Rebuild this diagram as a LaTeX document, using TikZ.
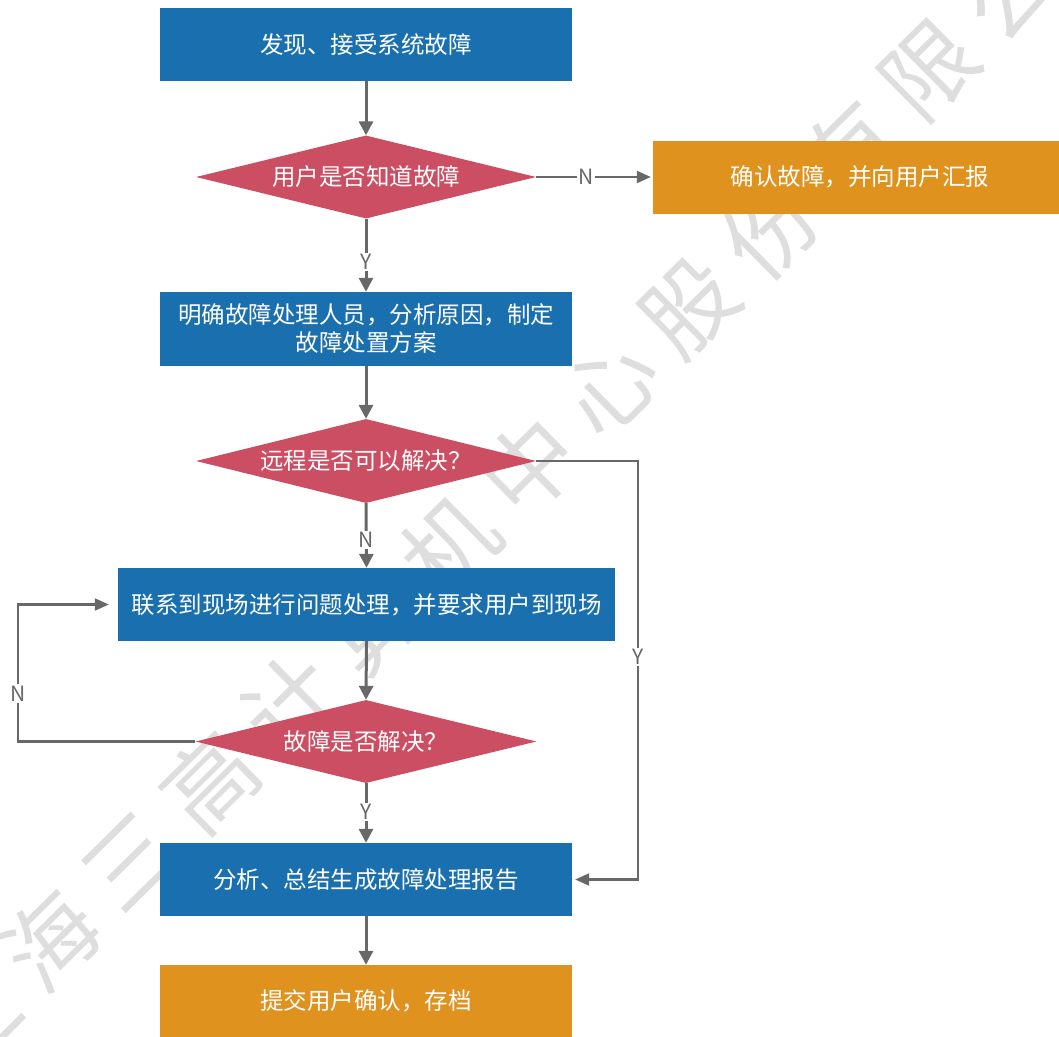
\documentclass[tikz,border=0pt]{standalone}
\usepackage{fontspec}
\setmainfont{Noto Sans CJK SC}
\usetikzlibrary{shapes.geometric,arrows.meta}
\definecolor{boxblue}{RGB}{26,112,175}
\definecolor{dred}{RGB}{204,78,99}
\definecolor{borange}{RGB}{224,146,31}
\definecolor{lgray}{RGB}{104,104,104}
\definecolor{wmgray}{RGB}{222,222,222}
\begin{document}
\begin{tikzpicture}[x=1pt,y=-1pt,
  box/.style={rectangle, inner sep=0pt, text=white, font=\fontsize{23.5}{28}\selectfont, align=center},
  bluebox/.style={box, fill=boxblue},
  orangebox/.style={box, fill=borange},
  decision/.style={diamond, aspect=4, inner sep=0pt, fill=dred, text=white, font=\fontsize{23.5}{28}\selectfont},
  mainarrow/.style={draw=lgray, line width=3pt, -{Triangle[length=14pt,width=14pt]}},
  sidearrow/.style={draw=lgray, line width=2.1pt, -{Triangle[length=14pt,width=12pt]}},
  lbl/.style={fill=white, text=lgray, inner sep=1.5pt, font=\fontsize{21}{21}\selectfont},
  wm/.style={text=wmgray, font=\fontsize{92}{92}\selectfont, rotate=44.6, inner sep=0pt}
]
\clip (0,0) rectangle (1059,1036);
\fill[white] (0,0) rectangle (1059,1036);
% watermark
\foreach \c [count=\i from 0] in {上,海,三,高,计,算,机,中,心,股,份,有,限,公,司}
  \node[wm] (wm\i) at ({-30+80*\i},{1019-79*\i}) {\c};
% nodes
\node[bluebox, minimum width=412pt, minimum height=73pt] (b1) at (366,44.5) {发现、接受系统故障};
\node[decision, minimum width=340pt, minimum height=83pt] (d1) at (366,177) {用户是否知道故障};
\node[orangebox, minimum width=414pt, minimum height=73pt] (o1) at (860,177) {确认故障，并向用户汇报};
\node[bluebox, minimum width=412pt, minimum height=74pt] (b2) at (366,329) {明确故障处理人员，分析原因，制定\\故障处置方案};
\node[decision, minimum width=340pt, minimum height=84pt] (d2) at (366,461) {远程是否可以解决？};
\node[bluebox, minimum width=497pt, minimum height=73pt] (b3) at (366.5,604.5) {联系到现场进行问题处理，并要求用户到现场};
\node[decision, minimum width=341pt, minimum height=83pt] (d3) at (366,741.5) {故障是否解决？};
\node[bluebox, minimum width=412pt, minimum height=73pt] (b5) at (366,879.5) {分析、总结生成故障处理报告};
\node[orangebox, minimum width=412pt, minimum height=72pt] (b6) at (366,1001) {提交用户确认，存档};
% corner coordinates
\coordinate (yc) at (638,461);
\coordinate (nc) at (18,741.5);
% connectors
\draw[mainarrow] (b1.south) -- (d1.north);
\draw[sidearrow, shorten >=2pt] (d1.east) -- node[lbl, pos=0.43] (lN1) {N} (o1.west);
\draw[mainarrow] (d1.south) -- node[lbl, pos=0.59] (lY1) {Y} (b2.north);
\draw[mainarrow] (b2.south) -- (d2.north);
\draw[mainarrow] (d2.south) -- node[lbl, pos=0.57] (lN2) {N} (b3.north);
\draw[sidearrow, shorten >=3pt] (d2.east) -- (yc) |- node[lbl, pos=0.234] (lY2) {Y} (b5.east);
\draw[mainarrow] (b3.south) -- (d3.north);
\draw[sidearrow, shorten >=9pt] (d3.west) -- (nc) |- node[lbl, pos=0.175] (lN3) {N} (b3.west);
\draw[mainarrow] (d3.south) -- node[lbl, pos=0.48] (lY3) {Y} (b5.north);
\draw[mainarrow] (b5.south) -- (b6.north);
\end{tikzpicture}
\end{document}
